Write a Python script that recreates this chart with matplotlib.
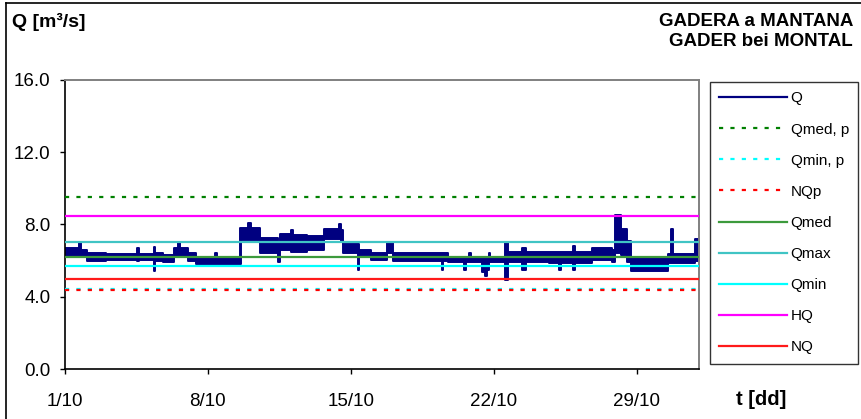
import matplotlib
matplotlib.use("Agg")
import matplotlib.pyplot as plt
from matplotlib.lines import Line2D

plt.rcParams['font.family'] = ['Liberation Sans', 'DejaVu Sans']
plt.rcParams['lines.scale_dashes'] = False

# ---- data -------------------------------------------------------------
# Q envelope (days since 1/10 00:00) – lower and upper bound of the trace
q_t = [0.00, 0.70, 0.80, 1.10, 2.00, 3.55, 3.62, 4.35, 4.42, 4.80,
       5.35, 5.55, 5.65, 6.00, 6.40, 7.35, 7.42, 8.55, 8.62, 8.95,
       9.10, 9.55, 10.45, 10.55, 11.05, 11.15, 11.85, 12.70, 13.40, 13.50,
       13.60, 14.35, 14.42, 15.00, 15.75, 16.05, 18.45, 18.52, 18.75, 19.55,
       19.62, 19.80, 19.87, 20.40, 20.55, 20.65, 20.75, 20.82, 21.55, 21.68,
       22.40, 22.58, 23.70, 24.20, 24.27, 24.90, 25.00, 25.80, 26.80, 26.95,
       27.25, 27.50, 27.70, 29.55, 29.70, 29.77, 30.85, 31.05]
q_lo = [6.20, 6.20, 6.20, 6.00, 6.05, 6.00, 6.05, 5.45, 6.00, 5.90,
        6.20, 6.20, 6.20, 6.00, 5.80, 5.80, 5.80, 5.80, 7.15, 7.15,
        7.10, 6.40, 5.90, 6.60, 6.50, 6.50, 6.60, 7.20, 7.20, 7.10,
        6.40, 5.50, 6.30, 6.05, 6.40, 6.00, 5.50, 6.00, 5.90, 5.50,
        5.90, 5.90, 5.90, 5.35, 5.15, 5.50, 5.90, 5.90, 4.90, 5.95,
        5.50, 5.95, 5.85, 5.50, 5.85, 5.50, 5.85, 6.05, 5.90, 6.40,
        6.30, 5.90, 5.45, 5.85, 5.85, 5.85, 6.00, 6.00]
q_hi = [6.70, 7.00, 6.60, 6.40, 6.35, 6.70, 6.35, 6.75, 6.40, 6.30,
        6.70, 7.00, 6.70, 6.40, 6.20, 6.40, 6.20, 7.80, 7.80, 8.10,
        7.80, 7.25, 7.00, 7.50, 7.70, 7.40, 7.35, 7.75, 8.05, 7.70,
        6.90, 6.90, 6.60, 6.40, 7.00, 6.40, 6.40, 6.40, 6.20, 6.20,
        6.20, 6.40, 6.20, 6.20, 6.20, 6.20, 6.40, 6.20, 7.00, 6.45,
        6.70, 6.45, 6.45, 6.45, 6.45, 6.80, 6.45, 6.70, 6.60, 8.50,
        7.75, 7.10, 6.15, 6.35, 7.75, 6.35, 7.20, 7.20]

# reference levels
ref_labels = ["Qmed, p", "Qmin, p", "NQp", "Qmed", "Qmax", "Qmin", "HQ", "NQ"]
ref_values = [9.50, 4.45, 4.35, 6.20, 7.05, 5.70, 8.45, 4.98]
ref_colors = ["#008000", "#00FFFF", "#FF0000", "#3C9A3C", "#40C4C4",
              "#00FFFF", "#FF00FF", "#FF1A1A"]
ref_dotted = [True, True, True, False, False, False, False, False]

x_ticks = [0, 7, 14, 21, 28]
x_ticklabels = ["1/10", "8/10", "15/10", "22/10", "29/10"]
y_ticks = [0, 4, 8, 12, 16]

# ---- figure -----------------------------------------------------------
W, H = 861, 419
fig = plt.figure(figsize=(W / 100, H / 100), dpi=100)
ax = fig.add_axes([65 / W, 50 / H, 634 / W, 289 / H])

navy = "#000080"
ax.fill_between(q_t, q_lo, q_hi, step="post", color=navy, lw=0, zorder=2)
ax.step(q_t, q_lo, where="post", color=navy, lw=1.4, zorder=2)
ax.step(q_t, q_hi, where="post", color=navy, lw=1.4, zorder=2)
handles = [Line2D([], [], color=navy, lw=1.6)]
labels = ["Q"]

for lab, val, col, dot in zip(ref_labels, ref_values, ref_colors, ref_dotted):
    if dot:
        ln, = ax.plot([0, 31.05], [val, val], color=col, lw=1.6, zorder=3,
                      dashes=(3.0, 5.2))
    else:
        ln, = ax.plot([0, 31.05], [val, val], color=col, lw=1.6, zorder=3)
    handles.append(ln)
    labels.append(lab)

ax.set_xlim(0, 31.05)
ax.set_ylim(0, 16)
ax.set_xticks(x_ticks)
ax.set_xticklabels(x_ticklabels)
ax.set_yticks(y_ticks)
ax.set_yticklabels([f"{v:.1f}" for v in y_ticks])
ax.tick_params(direction="out", length=3.8, width=1, labelsize=13.5,
               colors="black")
ax.tick_params(axis="y", pad=6.5)
ax.tick_params(axis="x", pad=13.5)
for s in ["left", "bottom"]:
    ax.spines[s].set_color("black")
    ax.spines[s].set_linewidth(1.2)
for s in ["top", "right"]:
    ax.spines[s].set_color("#808080")
    ax.spines[s].set_linewidth(1.4)

leg = fig.legend(handles, labels, loc="upper left",
                 bbox_to_anchor=(710 / W, 1 - 82 / H), fontsize=11,
                 frameon=True, fancybox=False, edgecolor="black",
                 handlelength=4.4, handletextpad=0.25, labelspacing=1.12,
                 borderpad=0.62, borderaxespad=0)
leg.get_frame().set_linewidth(1.0)

fig.text(12 / W, 1 - 22 / H, "Q [m³/s]", fontsize=14, weight="bold",
         ha="left", va="center")
fig.text(853 / W, 1 - 21 / H, "GADERA a MANTANA", fontsize=13.5,
         weight="bold", ha="right", va="center")
fig.text(853 / W, 1 - 41.5 / H, "GADER bei MONTAL", fontsize=13.5,
         weight="bold", ha="right", va="center")
fig.text(761 / W, 1 - 399 / H, "t [dd]", fontsize=14.5, weight="bold",
         ha="center", va="center")

fig.add_artist(Line2D([6 / W, 6 / W], [0, 1 - 3 / H], transform=fig.transFigure,
                      color="black", lw=1.2))
fig.add_artist(Line2D([6 / W, 1], [1 - 3 / H, 1 - 3 / H],
                      transform=fig.transFigure, color="black", lw=1.2))

fig.savefig("out.png", dpi=100)
